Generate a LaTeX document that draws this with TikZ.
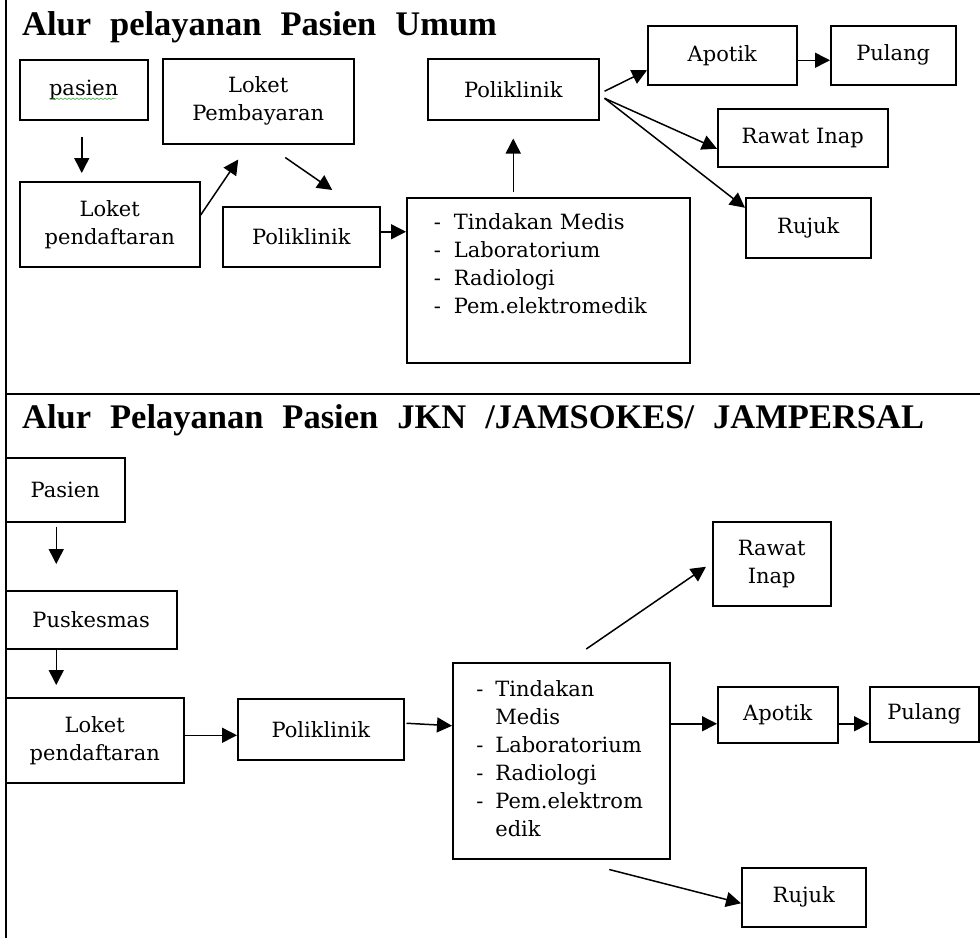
\documentclass[tikz,border=0pt]{standalone}
\usepackage{fontspec}
\setmainfont{DejaVu Serif}
\newfontfamily\judulfont{Liberation Serif}[WordSpace=2.2]
\usetikzlibrary{arrows.meta,decorations.pathmorphing}
\tikzset{kotak/.style={draw, line width=1.5pt, anchor=north west, inner sep=0pt, align=center},
  panah/.style={line width=1.5pt, -{Triangle[length=15pt,width=15pt]}},
  snake it/.style={decorate, decoration={snake, amplitude=0.8pt, segment length=4pt}}}
\newcommand{\isi}{\fontsize{21}{28}\selectfont}
\newcommand{\judul}{\judulfont\bfseries\fontsize{34.5}{38}\selectfont}

\begin{document}
\begin{tikzpicture}[x=1pt, y=-1pt, every node/.style={font=\isi}]
    \useasboundingbox (0,0) rectangle (980,938);
    % garis tepi
    \draw[line width=1.5pt] (6,0) -- (6,938);
    \draw[line width=1.5pt] (6,394) -- (980,394);

    % alur pasien umum
    \node[anchor=base west, inner sep=0pt, font=\judul] (judulA) at (22,35) {Alur pelayanan Pasien Umum};
    \node[kotak, minimum width=128pt, minimum height=60pt] (pasA) at (19,59) {pasien};
    \node[kotak, minimum width=191pt, minimum height=85pt] (loketbayar) at (162,58) {Loket\\Pembayaran};
    \node[kotak, minimum width=180pt, minimum height=85pt] (daftarA) at (19,181) {Loket\\pendaftaran};
    \node[kotak, minimum width=157pt, minimum height=60pt] (poliA) at (222,206) {Poliklinik};
    \node[kotak, minimum width=283pt, minimum height=165pt, text width=229pt, align=left] (tindA) at (406,197)
        {\begin{tabular}{@{}l@{\hspace{13pt}}l@{}}-&Tindakan Medis\\-&Laboratorium\\-&Radiologi\\-&Pem.elektromedik\\&\end{tabular}};
    \node[kotak, minimum width=171pt, minimum height=61pt] (poliA2) at (427,58) {Poliklinik};
    \node[kotak, minimum width=149pt, minimum height=59pt] (apotikA) at (647,25) {Apotik};
    \node[kotak, minimum width=125pt, minimum height=59pt] (pulangA) at (830,25) {Pulang};
    \node[kotak, minimum width=170pt, minimum height=58pt] (rawatA) at (717,108) {Rawat Inap};
    \node[kotak, minimum width=125pt, minimum height=60pt] (rujukA) at (745,197) {Rujuk};
    \draw[green!60!black, snake it] ([xshift=-32pt,yshift=-9pt]pasA.center) -- ([xshift=32pt,yshift=-9pt]pasA.center);

    \draw[panah, shorten <=16pt, shorten >=8pt] ([xshift=-2pt]pasA.south) -- ([xshift=-2pt]pasA.south |- daftarA.north);
    \draw[panah] ([yshift=9pt]daftarA.east) -- ([xshift=-20pt,yshift=-15pt]loketbayar.south);
    \draw[panah] ([xshift=27pt,yshift=-13pt]loketbayar.south) -- ([xshift=31pt,yshift=16pt]poliA.north);
    \draw[panah] ([yshift=5pt]poliA.east) -- ([yshift=5pt]poliA.east -| tindA.west);
    \draw[panah, shorten <=5pt, shorten >=18pt] (tindA.north -| poliA2.south) -- (poliA2.south);
    \draw[panah] ([xshift=5pt,yshift=-2pt]poliA2.east) -- ([yshift=-15pt]apotikA.west);
    \draw[panah] ([xshift=5pt,yshift=-9pt]poliA2.east) -- ([yshift=-11pt]rawatA.west);
    \draw[panah] ([xshift=5pt,yshift=-9pt]poliA2.east) -- ([yshift=20pt]rujukA.west);
    \draw[panah] ([yshift=-5pt]apotikA.east) -- ([yshift=-5pt]apotikA.east -| pulangA.west);

    % alur pasien JKN
    \node[anchor=base west, inner sep=0pt, font=\judul] (judulB) at (22,428) {Alur Pelayanan Pasien JKN /JAMSOKES/ JAMPERSAL};
    \node[kotak, minimum width=119pt, minimum height=64pt] (pasB) at (5,457) {Pasien};
    \node[kotak, minimum width=171pt, minimum height=58pt] (puskB) at (5,590) {Puskesmas};
    \node[kotak, minimum width=178pt, minimum height=85pt] (daftarB) at (5,697) {Loket\\pendaftaran};
    \node[kotak, minimum width=166pt, minimum height=61pt] (poliB) at (237,698) {Poliklinik};
    \node[kotak, minimum width=217pt, minimum height=196pt, text width=170pt, align=left] (tindB) at (452,662)
        {\begin{tabular}{@{}l@{\hspace{12pt}}l@{}}-&Tindakan\\&Medis\\-&Laboratorium\\-&Radiologi\\-&Pem.elektrom\\&edik\end{tabular}};
    \node[kotak, minimum width=118pt, minimum height=84pt] (rawatB) at (712,521) {Rawat\\Inap};
    \node[kotak, minimum width=120pt, minimum height=56pt] (apotikB) at (717,686) {Apotik};
    \node[kotak, minimum width=109pt, minimum height=55pt] (pulangB) at (869,686) {Pulang};
    \node[kotak, minimum width=124pt, minimum height=59pt] (rujukB) at (741,867) {Rujuk};

    \draw[panah, shorten <=4pt, shorten >=26pt] ([xshift=-9pt]pasB.south) -- ([xshift=-9pt]pasB.south |- puskB.north);
    \draw[panah, shorten >=12pt] ([xshift=-35pt]puskB.south) -- ([xshift=-35pt]puskB.south |- daftarB.north);
    \draw[panah] ([yshift=5pt]daftarB.east) -- ([yshift=5pt]daftarB.east -| poliB.west);
    \draw[panah] ([xshift=2pt,yshift=6pt]poliB.east) -- ([yshift=35pt]tindB.west);
    \draw[panah] ([xshift=25pt,yshift=13pt]tindB.north) -- ([xshift=-6pt,yshift=-3pt]rawatB.west);
    \draw[panah] ([yshift=-9pt]apotikB.west -| tindB.east) -- ([yshift=-9pt]apotikB.west);
    \draw[panah] ([yshift=-9pt]apotikB.east) -- ([yshift=-9pt]apotikB.east -| pulangB.west);
    \draw[panah] ([xshift=48pt,yshift=-10pt]tindB.south) -- ([yshift=-6pt]rujukB.west);
\end{tikzpicture}
\end{document}
